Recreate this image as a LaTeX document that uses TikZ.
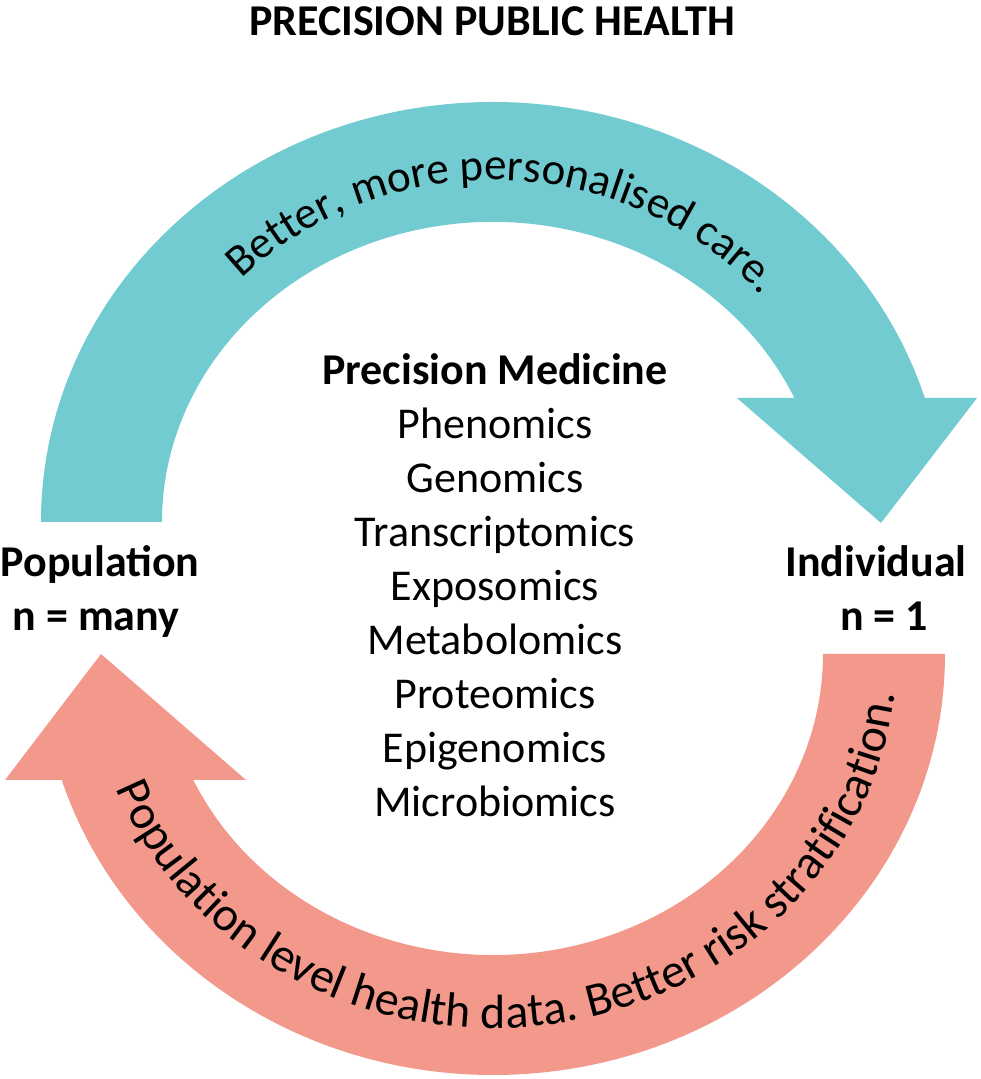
\documentclass[tikz,border=0pt]{standalone}
\usepackage{fontspec}
\setmainfont{Carlito}
\usetikzlibrary{decorations.text}
\definecolor{tealarc}{RGB}{113,203,209}
\definecolor{salmonarc}{RGB}{242,153,140}
\begin{document}
\begin{tikzpicture}[x=1pt,y=1pt,
  big/.style={font=\fontsize{44}{54}\selectfont, inner sep=0pt, anchor=base},
  bigb/.style={font=\fontsize{44}{54}\selectfont\bfseries, inner sep=0pt, anchor=base},
  curved/.style={decorate, decoration={text along path, text align=center, text={#1}}}]
\useasboundingbox (0,0) rectangle (980,1079);
% top (teal) arrow
\fill[tealarc] (162,557) -- (41,557)
  arc[start angle=180,end angle=17.2,x radius=452,y radius=420]
  -- (977,681) -- (881,556) -- (737,681) -- (794.4,681)
  arc[start angle=24.4,end angle=180,x radius=331,y radius=300] -- cycle;
% bottom (salmon) arrow
\fill[salmonarc] (823,425) -- (945,425)
  arc[start angle=0,end angle=-162.6,x radius=452,y radius=421]
  -- (5,299) -- (101,425) -- (246,299) -- (193.3,299)
  arc[start angle=-155.25,end angle=0,x radius=330,y radius=301] -- cycle;
% curved texts
\path[curved={|\fontsize{45}{54}\selectfont|Better, more personalised care.}]
  (135.2,568.9) arc[start angle=178,end angle=-2,x radius=358,y radius=342];
\path[curved={|\fontsize{48}{58}\selectfont|Population level health data. Better risk stratification.}]
  (102.8,328.2) arc[start angle=195,end angle=360,x radius=404,y radius=374];
% title
\node[bigb] (title) at (492,1043) {PRECISION PUBLIC HEALTH};
% centre list
\node[bigb] (pm) at (495,694) {Precision Medicine};
\node[big] (l1) at (495,640) {Phenomics};
\node[big] (l2) at (495,586) {Genomics};
\node[big] (l3) at (495,532) {Transcriptomics};
\node[big] (l4) at (495,478) {Exposomics};
\node[big] (l5) at (495,424) {Metabolomics};
\node[big] (l6) at (495,370) {Proteomics};
\node[big] (l7) at (495,316) {Epigenomics};
\node[big] (l8) at (495,262) {Microbiomics};
% side labels
\node[bigb] (pop) at (100,502) {Population};
\node[bigb] (popn) at (96,448) {n = many};
\node[bigb] (ind) at (876,502) {Individual};
\node[bigb] (indn) at (884,448) {n = 1};
\end{tikzpicture}
\end{document}
